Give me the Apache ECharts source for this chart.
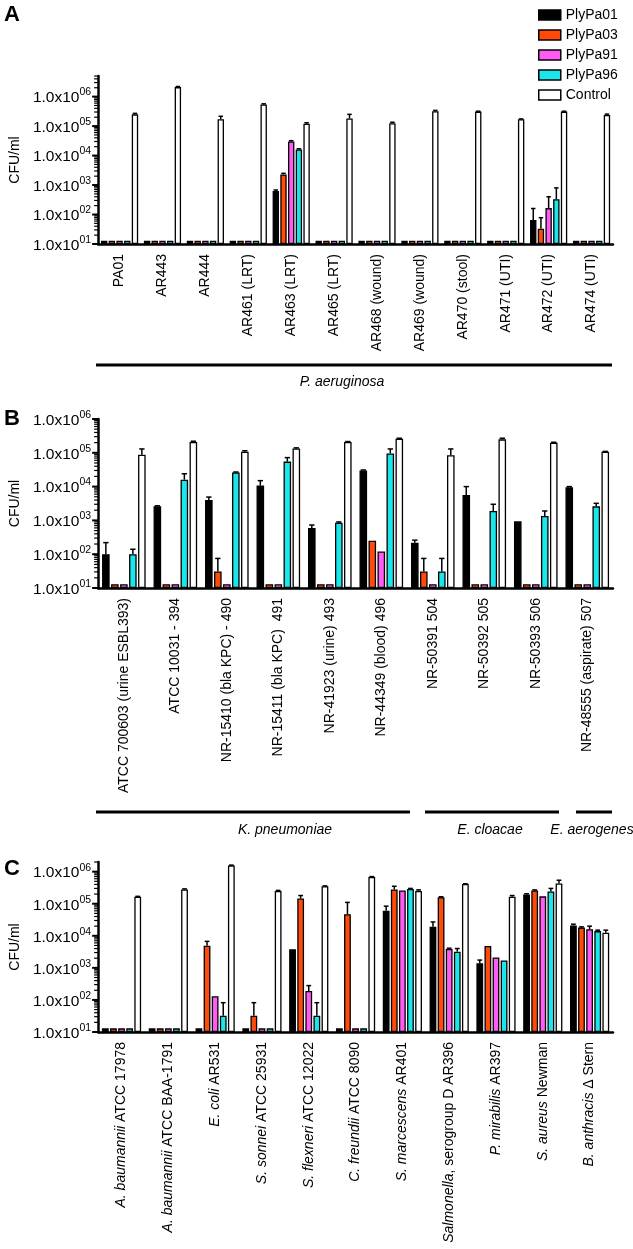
<!DOCTYPE html>
<html><head><meta charset="utf-8">
<script src="https://cdn.jsdelivr.net/npm/echarts@6/dist/echarts.min.js"></script>
<style>html,body{margin:0;padding:0;background:#fff}#c{width:633px;height:1249px}</style>
</head><body><div id="c"></div>
<script>
const FONT = 'Liberation Sans, Arial, Helvetica, sans-serif';
const seriesNames = ['PlyPa01', 'PlyPa03', 'PlyPa91', 'PlyPa96', 'Control'];
const seriesColors = ['#000000', '#FF4A0A', '#FF5CF4', '#1AE6EC', '#FFFFFF'];

// Y tick values (log axis)
const majorTicks = [10, 100, 1000, 10000, 100000, 1000000];
const minorMultipliers = [2, 3, 4, 5, 6, 7, 8, 9];

// ---------- Panel A : P. aeruginosa ----------
const catsA = ['PA01', 'AR443', 'AR444', 'AR461 (LRT)', 'AR463 (LRT)', 'AR465 (LRT)', 'AR468 (wound)', 'AR469 (wound)', 'AR470 (stool)', 'AR471 (UTI)', 'AR472 (UTI)', 'AR474 (UTI)'];
const a01 = [13, 13, 13, 13, 630, 13, 13, 13, 13, 13, 65, 13];
const a03 = [13, 13, 13, 13, 2300, 13, 13, 13, 13, 13, 33, 13];
const a91 = [13, 13, 13, 13, 30000, 13, 13, 13, 13, 13, 165, 13];
const a96 = [13, 13, 13, 13, 16000, 13, 13, 13, 13, 13, 330, 13];
const aCtl = [250000, 2100000, 170000, 540000, 120000, 180000, 125000, 320000, 310000, 170000, 310000, 240000];
const errA01 = [null, null, null, null, 680, null, null, null, null, null, 160, null];
const errA03 = [null, null, null, null, 2500, null, null, null, null, null, 78, null];
const errA91 = [null, null, null, null, 32000, null, null, null, null, null, 400, null];
const errA96 = [null, null, null, null, 17000, null, null, null, null, null, 800, null];
const errACtl = [270000, 2200000, 215000, 570000, 130000, 250000, 135000, 340000, 320000, 175000, 320000, 255000];

// ---------- Panel B : K. pneumoniae / E. cloacae / E. aerogenes ----------
const catsB = ['ATCC 700603 (urine ESBL393)', 'ATCC 10031 - 394', 'NR-15410 (bla KPC) - 490', 'NR-15411 (bla KPC)  491', 'NR-41923 (urine) 493', 'NR-44349 (blood) 496', 'NR-50391 504', 'NR-50392 505', 'NR-50393 506', 'NR-48555 (aspirate) 507'];
const b01 = [100, 2600, 4000, 10700, 600, 30000, 220, 5600, 940, 9600];
const b03 = [13, 13, 31, 13, 13, 250, 31, 13, 13, 13];
const b91 = [13, 13, 13, 13, 13, 120, 13, 13, 13, 13];
const b96 = [100, 16000, 26000, 55000, 850, 96000, 31, 1900, 1350, 2600];
const bCtl = [88000, 210000, 107000, 135000, 210000, 260000, 85000, 250000, 200000, 107000];
const errB01 = [220, 2700, 4900, 15000, 730, 31000, 260, 10000, null, 10000];
const errB03 = [null, null, 75, null, null, null, 75, null, null, null];
const errB91 = [null, null, null, null, null, null, null, null, null, null];
const errB96 = [140, 24000, 27000, 72000, 900, 130000, 75, 3000, 1900, 3200];
const errBCtl = [130000, 220000, 115000, 140000, 215000, 270000, 130000, 270000, 205000, 110000];

// ---------- Panel C : other species ----------
const catsC = ['A. baumannii ATCC 17978', 'A. baumannii ATCC BAA-1791', 'E. coli AR531', 'S. sonnei ATCC 25931', 'S. flexneri ATCC 12022', 'C. freundii ATCC 8090', 'S. marcescens AR401', 'Salmonella, serogroup D AR396', 'P. mirabilis AR397', 'S. aureus Newman', 'B. anthracis Δ Stern'];
const italicC = ['A. baumannii', 'A. baumannii', 'E. coli', 'S. sonnei', 'S. flexneri', 'C. freundii', 'S. marcescens', 'Salmonella', 'P. mirabilis', 'S. aureus', 'B. anthracis'];
const c01 = [13, 13, 13, 13, 3800, 13, 60000, 19000, 1400, 195000, 21000];
const c03 = [13, 13, 4900, 32, 145000, 47000, 280000, 160000, 4800, 260000, 18000];
const c91 = [13, 13, 130, 13, 190, 13, 260000, 3900, 2100, 170000, 16000];
const c96 = [13, 13, 32, 13, 32, 13, 290000, 3200, 1700, 240000, 14000];
const cCtl = [165000, 280000, 1550000, 250000, 350000, 680000, 250000, 410000, 165000, 430000, 12400];
const errC01 = [null, null, null, null, null, null, 84000, 27000, 1750, 205000, 23000];
const errC03 = [null, null, 6700, 82, 180000, 110000, 350000, 165000, null, 270000, 19000];
const errC91 = [null, null, null, null, 280, null, null, 4100, null, null, 20000];
const errC96 = [null, null, 82, null, 82, null, 300000, 4000, null, 300000, 15000];
const errCCtl = [170000, 290000, 1600000, 260000, 360000, 700000, 270000, 420000, 180000, 540000, 15000];

const panels = [
  { cats: catsA, vals: [a01, a03, a91, a96, aCtl], errs: [errA01, errA03, errA91, errA96, errACtl], min: 10, max: 5000000, top: 76, height: 168, barW: 6.4, gap: 1.3 },
  { cats: catsB, vals: [b01, b03, b91, b96, bCtl], errs: [errB01, errB03, errB91, errB96, errBCtl], min: 10, max: 1000000, top: 419, height: 169, barW: 7.6, gap: 1.4 },
  { cats: catsC, vals: [c01, c03, c91, c96, cCtl], errs: [errC01, errC03, errC91, errC96, errCCtl], min: 10, max: 2000000, top: 862, height: 170, barW: 6.8, gap: 1.3, italic: italicC }
];

function logLabel(v) {
  const e = Math.round(Math.log10(v));
  if (Math.abs(Math.pow(10, e) - v) / v > 1e-6) return '';
  return '{m|1.0x10}{e|' + (e < 10 ? '0' : '') + e + '}';
}

const grids = [], xAxes = [], yAxes = [], series = [];
panels.forEach((p, pi) => {
  grids.push({ left: 87, right: 20, top: p.top, height: p.height, containLabel: false });
  const xa = {
    type: 'category', gridIndex: pi, data: p.cats,
    axisLine: { onZero: false, lineStyle: { color: '#000', width: 2.5 } },
    axisTick: { alignWithLabel: true, length: 6, lineStyle: { color: '#000', width: 2 } },
    axisLabel: { interval: 0, rotate: 90, margin: 10, fontSize: 14, color: '#000', fontFamily: FONT }
  };
  if (p.italic) {
    xa.axisLabel.formatter = (val, idx) => {
      const it = p.italic[idx];
      return '{i|' + it + '}' + val.slice(it.length);
    };
    xa.axisLabel.rich = { i: { fontStyle: 'italic', fontSize: 14, color: '#000', fontFamily: FONT } };
  }
  xAxes.push(xa);
  yAxes.push({
    type: 'log', logBase: 10, gridIndex: pi, min: p.min, max: p.max, startValue: p.min,
    name: 'CFU/ml', nameLocation: 'middle', nameGap: 72, nameRotate: 90,
    nameTextStyle: { fontSize: 14, color: '#000', fontFamily: FONT },
    axisLine: { show: true, lineStyle: { color: '#000', width: 2.5 } },
    axisTick: { show: false },
    splitLine: { show: false },
    axisLabel: {
      margin: 7, color: '#000', formatter: logLabel,
      rich: {
        m: { fontSize: 15.5, color: '#000', fontFamily: FONT, verticalAlign: 'bottom' },
        e: { fontSize: 10.5, color: '#000', fontFamily: FONT, verticalAlign: 'top', padding: [0, 0, 8, 0] }
      }
    }
  });
  seriesNames.forEach((nm, si) => {
    series.push({
      type: 'bar', name: nm, xAxisIndex: pi, yAxisIndex: pi,
      data: p.vals[si], barWidth: p.barW, barGap: (p.gap / p.barW * 100) + '%',
      itemStyle: { color: seriesColors[si], borderColor: '#000', borderWidth: 1.3 },
      clip: true, z: 2
    });
  });
  // error bars
  const errData = [];
  p.errs.forEach((arr, si) => arr.forEach((e, ci) => { if (e != null) errData.push([ci, p.vals[si][ci], e, si]); }));
  const step = p.barW + p.gap;
  series.push({
    type: 'custom', name: 'err' + pi, xAxisIndex: pi, yAxisIndex: pi, silent: true, z: 3,
    encode: { x: 0, y: 1 },
    data: errData,
    renderItem: (params, api) => {
      const c = api.value(0), v = api.value(1), e = api.value(2), s = api.value(3);
      const p0 = api.coord([c, v]);
      const p1 = api.coord([c, e]);
      const x = p0[0] + (s - 2) * step;
      const cw = p.barW * 0.7;
      return {
        type: 'group', children: [
          { type: 'line', shape: { x1: x, y1: p0[1], x2: x, y2: p1[1] }, style: { stroke: '#000', lineWidth: 1.5 } },
          { type: 'line', shape: { x1: x - cw / 2, y1: p1[1], x2: x + cw / 2, y2: p1[1] }, style: { stroke: '#000', lineWidth: 1.5 } }
        ]
      };
    }
  });
  // y ticks (major + log minor)
  const tickData = [];
  majorTicks.forEach(t => { if (t >= p.min && t <= p.max) tickData.push([0, t, 1]); });
  majorTicks.forEach(t => minorMultipliers.forEach(m => { const v = t * m; if (v > p.min && v <= p.max * 1.0001) tickData.push([0, v, 0]); }));
  series.push({
    type: 'custom', name: 'ticks' + pi, xAxisIndex: pi, yAxisIndex: pi, silent: true, z: 4,
    encode: { x: 0, y: 1 },
    data: tickData,
    renderItem: (params, api) => {
      const y = api.coord([0, api.value(1)])[1];
      const x0 = params.coordSys.x;
      const major = api.value(2) === 1;
      const len = major ? 6 : 4;
      return { type: 'line', shape: { x1: x0 - len, y1: y, x2: x0, y2: y }, style: { stroke: '#000', lineWidth: major ? 2 : 1.2 } };
    }
  });
});

const groupLabelStyle = { fontSize: 14, fontStyle: 'italic', fill: '#000', fontFamily: FONT, textAlign: 'center', textVerticalAlign: 'middle' };
const graphic = [
  { type: 'text', left: 4, top: 4, style: { text: 'A', fontSize: 22, fontWeight: 'bold', fill: '#000', fontFamily: FONT } },
  { type: 'text', left: 4, top: 408, style: { text: 'B', fontSize: 22, fontWeight: 'bold', fill: '#000', fontFamily: FONT } },
  { type: 'text', left: 4, top: 858, style: { text: 'C', fontSize: 22, fontWeight: 'bold', fill: '#000', fontFamily: FONT } },
  { type: 'line', shape: { x1: 96, y1: 365, x2: 612, y2: 365 }, style: { stroke: '#000', lineWidth: 3 } },
  { type: 'text', x: 342, y: 382, style: Object.assign({ text: 'P. aeruginosa' }, groupLabelStyle) },
  { type: 'line', shape: { x1: 96, y1: 812, x2: 410, y2: 812 }, style: { stroke: '#000', lineWidth: 3 } },
  { type: 'line', shape: { x1: 425, y1: 812, x2: 559, y2: 812 }, style: { stroke: '#000', lineWidth: 3 } },
  { type: 'line', shape: { x1: 576, y1: 812, x2: 612, y2: 812 }, style: { stroke: '#000', lineWidth: 3 } },
  { type: 'text', x: 285, y: 830, style: Object.assign({ text: 'K. pneumoniae' }, groupLabelStyle) },
  { type: 'text', x: 490, y: 830, style: Object.assign({ text: 'E. cloacae' }, groupLabelStyle) },
  { type: 'text', x: 592, y: 830, style: Object.assign({ text: 'E. aerogenes' }, groupLabelStyle) }
];

const chart = echarts.init(document.getElementById('c'), null, { renderer: 'canvas' });
chart.setOption({
  animation: false,
  backgroundColor: '#fff',
  textStyle: { fontFamily: FONT },
  legend: {
    data: seriesNames, orient: 'vertical', left: 533, top: 3, itemWidth: 22, itemHeight: 10, itemGap: 6,
    icon: 'rect', selectedMode: false,
    itemStyle: { borderColor: '#000', borderWidth: 1.5 },
    textStyle: { fontSize: 14, color: '#000', fontFamily: FONT }
  },
  grid: grids, xAxis: xAxes, yAxis: yAxes, series: series, graphic: graphic
});
</script></body></html>
